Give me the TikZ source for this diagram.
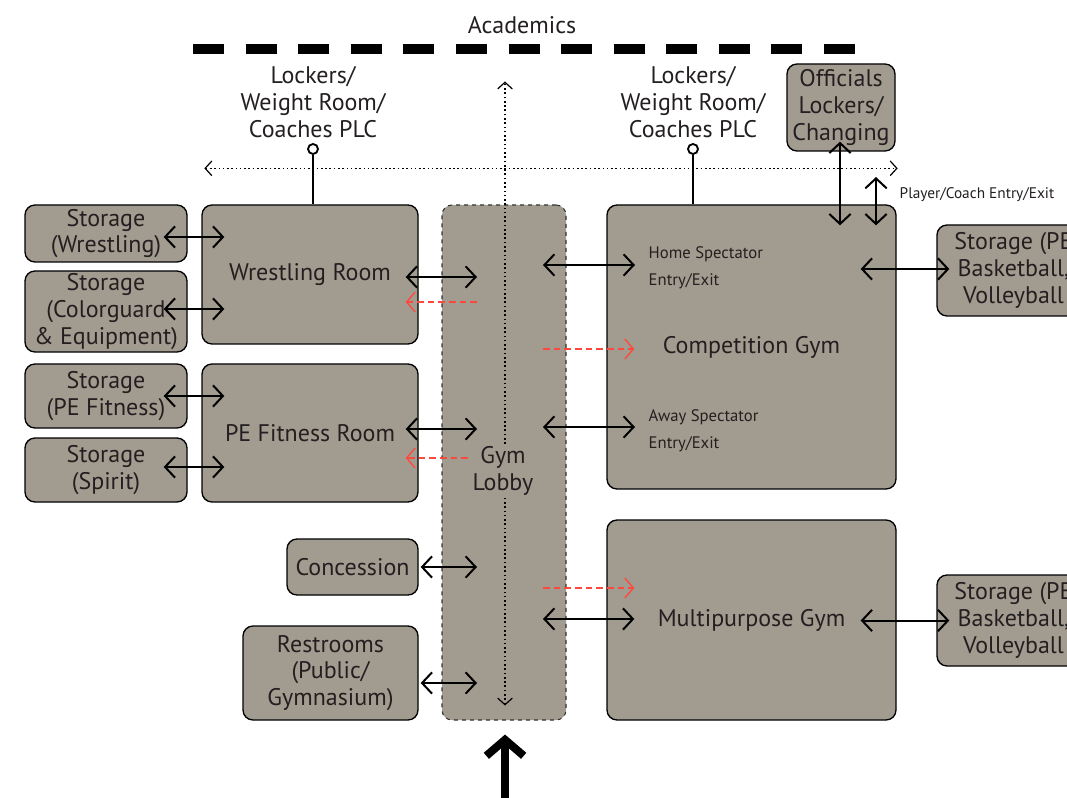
\documentclass[tikz,border=0pt]{standalone}
\usepackage{fontspec}
\setmainfont{PT Sans}
\usetikzlibrary{positioning,arrows.meta,calc}
\definecolor{roomfill}{RGB}{162,156,144}
\definecolor{roomtext}{RGB}{35,31,32}
\definecolor{flowred}{RGB}{255,72,60}

\tikzset{
  room/.style={draw, line width=1pt, rounded corners=7.5pt, fill=roomfill, text=roomtext, align=center, inner sep=2pt},
  link/.style={{Straight Barb[length=7.5pt,width=16pt]}-{Straight Barb[length=7.5pt,width=16pt]}, line width=1.5pt},
  walk/.style={{Straight Barb[length=5pt,width=11pt,line width=0.9pt]}-{Straight Barb[length=5pt,width=11pt,line width=0.9pt]}, line width=1.2pt, dotted},
  flow/.style={-{Straight Barb[length=6.5pt,width=15pt]}, draw=flowred, line width=1pt, dash pattern=on 5pt off 3pt},
  pinhead/.style={circle, draw, line width=1.4pt, fill=white, inner sep=0pt, minimum size=7.5pt},
  entrance/.style={-{Straight Barb[length=12pt,width=28pt]}, line width=6pt}
}

\begin{document}
\begin{tikzpicture}[x=0.75pt, y=-0.75pt, every node/.style={font=\fontsize{18}{20}\selectfont, text=roomtext}]
  \clip (0,0) rectangle (1067,798);

  % boundary to academics
  \node (academics) at (522,25) {Academics};
  \draw[line width=7pt, dash pattern=on 23.25pt off 16.19pt] (193,49) -- (855,49);

  % labels above
  \node[align=center] (lockl) at (313,102) {Lockers/\\Weight Room/\\Coaches PLC};
  \node[align=center] (lockr) at (693,102) {Lockers/\\Weight Room/\\Coaches PLC};

  % rooms
  \node[room, minimum width=121.5pt, minimum height=42.75pt] (stwr) at (106,233.5) {Storage\\(Wrestling)};
  \node[room, minimum width=121.5pt, minimum height=60.75pt] (stcg) at (106,311.5) {Storage\\(Colorguard\\\& Equipment)};
  \node[room, minimum width=121.5pt, minimum height=48pt] (stpe) at (106,396) {Storage\\(PE Fitness)};
  \node[room, minimum width=121.5pt, minimum height=48pt] (stsp) at (106,470) {Storage\\(Spirit)};
  \node[room, minimum width=162pt, minimum height=104.25pt] (wrestling) at (310,274.5) {Wrestling Room};
  \node[room, minimum width=162pt, minimum height=103.5pt] (pefit) at (310,433) {PE Fitness Room};
  \node[room, minimum width=98.25pt, minimum height=42pt] (conc) at (352.5,567) {Concession};
  \node[room, minimum width=131.25pt, minimum height=70.5pt] (rest) at (330.5,673) {Restrooms\\(Public/\\Gymnasium)};
  \node[room, dashed, draw=black!80, line width=0.8pt, minimum width=93pt, minimum height=386.25pt] (lobby) at (504,462.5) {};
  \node[room, minimum width=216.75pt, minimum height=213pt] (comp) at (751.5,347) {Competition Gym};
  \node[room, minimum width=216.75pt, minimum height=150pt] (multi) at (751.5,620) {Multipurpose Gym};
  \node[room, minimum width=81pt, minimum height=65.25pt] (officials) at (841,107.5) {Officials\\Lockers/\\Changing};
  \node[room, minimum width=114.75pt, minimum height=68.25pt] (stbv1) at (1013.5,270.5) {Storage (PE\\Basketball,\\Volleyball};
  \node[room, minimum width=114.75pt, minimum height=68.25pt] (stbv2) at (1013.5,620.5) {Storage (PE\\Basketball,\\Volleyball};

  % entry notes
  \node[anchor=west, align=left, font=\fontsize{12.5}{20}\selectfont] (homelbl) at (644,268) {Home Spectator\\Entry/Exit};
  \node[anchor=west, align=left, font=\fontsize{12.5}{20}\selectfont] (awaylbl) at (644,431) {Away Spectator\\Entry/Exit};
  \node[anchor=west, font=\fontsize{11.5}{14}\selectfont] (pclbl) at (895,195) {Player/Coach Entry/Exit};

  % pins
  \node[pinhead] (pinl) at (313,149) {};
  \node[pinhead] (pinr) at (693,149) {};
  \draw[line width=1.5pt] (pinl) -- (pinl |- wrestling.north);
  \draw[line width=1.5pt] (pinr) -- (pinr |- comp.north);

  % circulation
  \draw[walk] ($(wrestling.north west)+(3,-36)$) -- ($(comp.north east)+(1,-36)$);
  \draw[walk] ($(lobby.south)+(1,-15)$) -- ($(lobby.north)+(1,-123)$);
  \node[fill=roomfill, inner sep=1pt, align=center] (lobbylbl) at (503,471) {Gym\\Lobby};

  % storage links
  \draw[link] ($(stwr.east)+(-24,3.5)$) -- ($(stwr.east -| wrestling.west)+(23,3.5)$);
  \draw[link] ($(stcg.east)+(-24,-2.5)$) -- ($(stcg.east -| wrestling.west)+(23,-2.5)$);
  \draw[link] ($(stpe.east)+(-24,0)$) -- ($(stpe.east -| pefit.west)+(23,0)$);
  \draw[link] ($(stsp.east)+(-24,-3)$) -- ($(stsp.east -| pefit.west)+(23,-3)$);

  % rooms to lobby
  \draw[link] ($(wrestling.east)+(-13,2.5)$) -- ($(wrestling.east -| lobby.center)+(-27,2.5)$);
  \draw[link] ($(pefit.east)+(-13,-4)$) -- ($(pefit.east -| lobby.center)+(-27,-4)$);
  \draw[link] ($(conc.east)+(2,0)$) -- ($(conc.east -| lobby.center)+(-27,0)$);
  \draw[link] ($(rest.east)+(2,10)$) -- ($(rest.east -| lobby.center)+(-27,10)$);

  % lobby to gyms
  \draw[link] ($(homelbl.west -| lobby.center)+(39,-3)$) -- ($(homelbl.west)+(-9,-3)$);
  \draw[link] ($(awaylbl.west -| lobby.center)+(39,-4)$) -- ($(awaylbl.west)+(-9,-4)$);
  \draw[link] ($(multi.west -| lobby.center)+(39,-1)$) -- ($(multi.west)+(28,-1)$);

  % gyms to storage
  \draw[link] ($(stbv1.west -| comp.east)+(-36,-1.5)$) -- ($(stbv1.west)+(13,-1.5)$);
  \draw[link] ($(stbv2.west -| multi.east)+(-36,0)$) -- ($(stbv2.west)+(13,0)$);

  % officials and players
  \draw[link] ($(officials.south)+(-1,-10)$) -- ($(officials.south |- comp.north)+(-1,21)$);
  \coordinate (pcdoor) at (876,177);
  \draw[link] (pcdoor) -- ($(pcdoor |- comp.north)+(0,21)$);

  % one-way flows
  \draw[flow] ($(wrestling.east -| lobby.center)+(-27,27.5)$) -- ($(wrestling.east)+(-13,27.5)$);
  \draw[flow] ($(pefit.east -| lobby.center)+(-36,25)$) -- ($(pefit.east)+(-13,25)$);
  \draw[flow] ($(comp.west -| lobby.center)+(39,2)$) -- ($(comp.west)+(28,2)$);
  \draw[flow] ($(multi.west -| lobby.center)+(39,-32)$) -- ($(multi.west)+(28,-32)$);

  % main entrance
  \coordinate (entry) at (505,805);
  \draw[entrance] (entry) -- ($(lobby.south)+(1,14)$);
\end{tikzpicture}
\end{document}
